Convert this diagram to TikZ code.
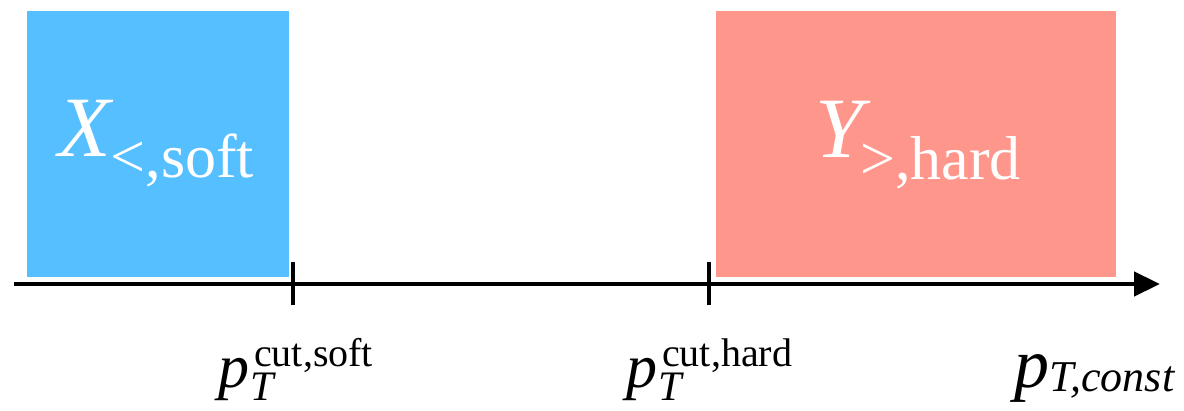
\documentclass[tikz,border=0pt]{standalone}
\usepackage{fontspec}
\setmainfont{Liberation Serif}
\usetikzlibrary{arrows.meta}
\definecolor{softblue}{RGB}{86,191,255}
\definecolor{hardred}{RGB}{255,150,140}
\newcommand{\fs}[1]{\fontsize{#1}{#1}\selectfont}
\begin{document}
\begin{tikzpicture}[x=1pt,y=-1pt,
  region/.style={draw=none,inner sep=0pt,anchor=north west},
  axisline/.style={line width=4.5pt,-{Triangle[length=26pt,width=24pt]}},
  tickmark/.style={line width=4.5pt},
  lbl/.style={inner sep=0pt,anchor=base west}]
\useasboundingbox (0,0) rectangle (1184,411);
% regions
\node[region,fill=softblue,minimum width=262pt,minimum height=266pt] (soft) at (27,11) {};
\node[region,fill=hardred,minimum width=400pt,minimum height=266pt] (hard) at (716,11) {};
% labels in boxes
\node[lbl,text=white] (xlab) at (58,157) {\fs{86}\itshape X\raisebox{-21pt}{\fs{62}\upshape <,soft}};
\node[lbl,text=white] (ylab) at (815,158) {\fs{86}\itshape Y\kern-3pt\raisebox{-22pt}{\fs{62}\upshape >,hard}};
% axis
\coordinate (a0) at (14,284);
\coordinate (a1) at (1160,284);
\draw[axisline] (a0) -- (a1);
\coordinate (t1a) at (293,262); \coordinate (t1b) at (293,305);
\coordinate (t2a) at (709,262); \coordinate (t2b) at (709,305);
\draw[tickmark] (t1a) -- (t1b);
\draw[tickmark] (t2a) -- (t2b);
% axis labels
\node[lbl] (cutsoft) at (218,388) {\fs{62}\itshape p\kern1pt\rlap{\raisebox{-13pt}{\fs{42}T}}\kern4pt\raisebox{21pt}{\fs{40}\upshape cut,soft}};
\node[lbl] (cuthard) at (626,388) {\fs{62}\itshape p\kern1pt\rlap{\raisebox{-13pt}{\fs{42}T}}\kern4pt\raisebox{21pt}{\fs{40}\upshape cut,hard}};
\node[lbl] (pconst) at (1014,388) {\fs{70}\itshape p\raisebox{-4pt}{\fs{44}T,const}};
\end{tikzpicture}
\end{document}
